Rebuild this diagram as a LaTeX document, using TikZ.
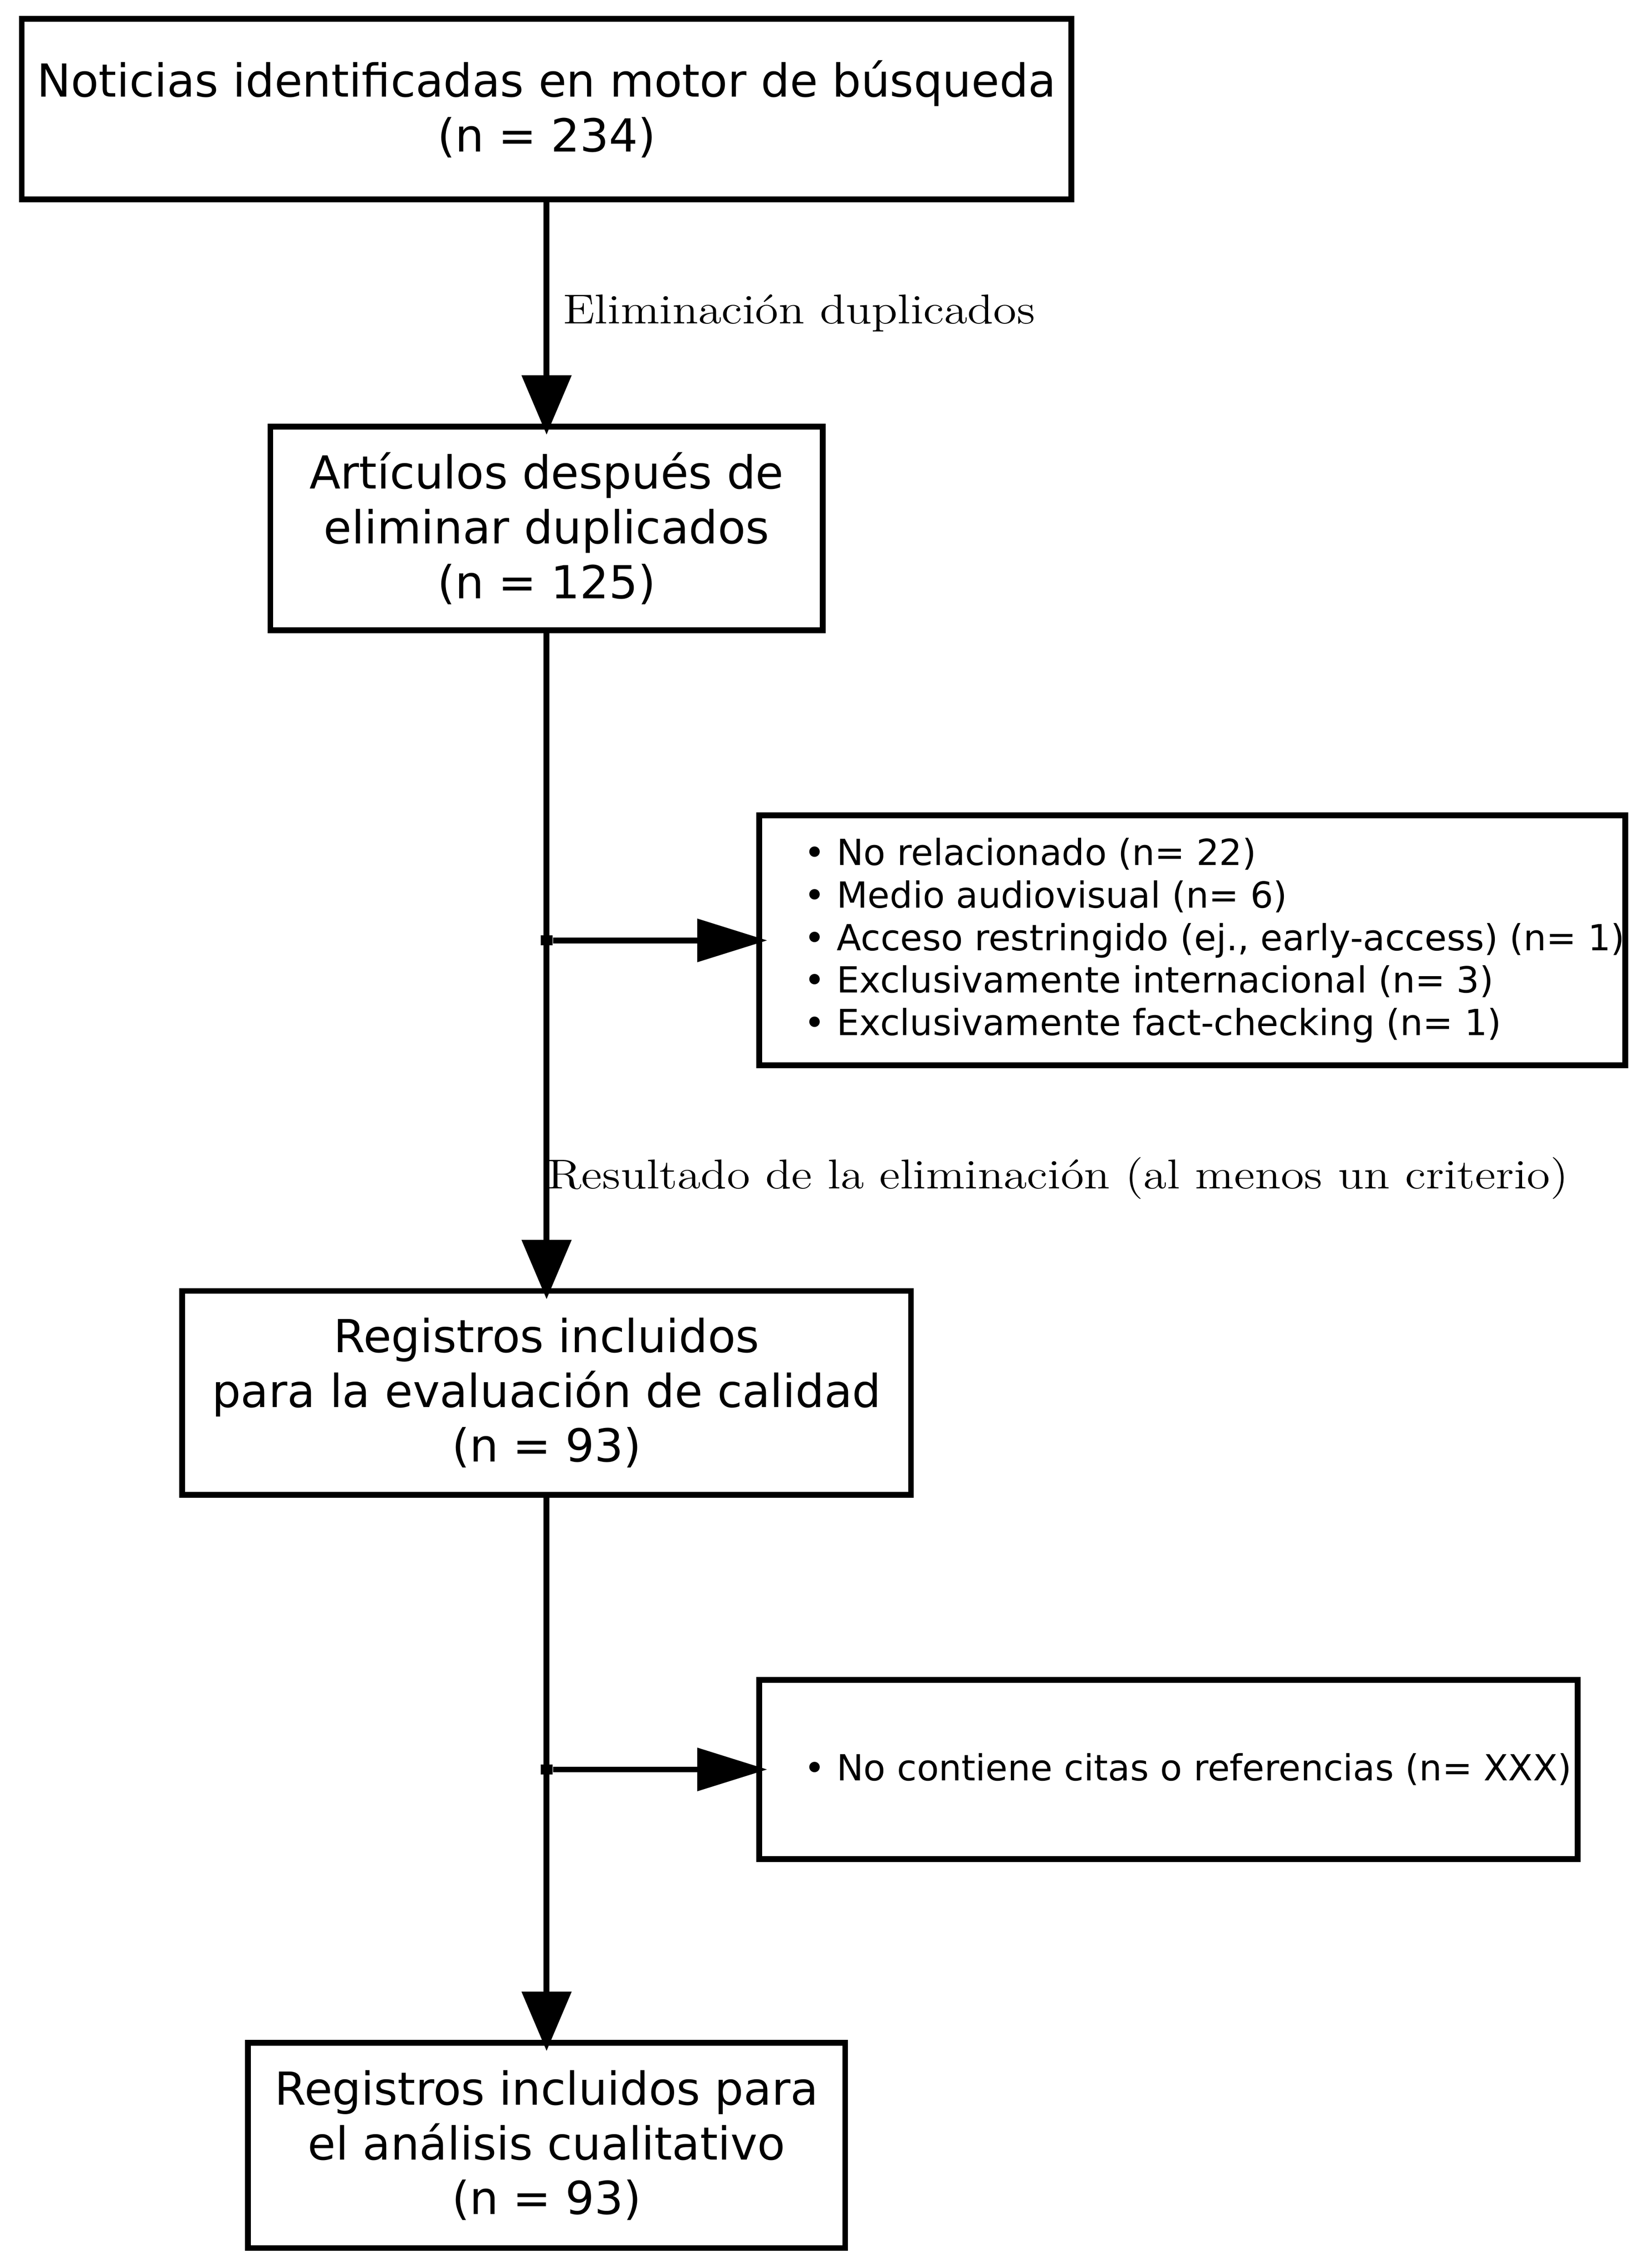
\documentclass[tikz,border=0pt]{standalone}
\usepackage{fontspec}
\usepackage{tikz}
\usetikzlibrary{arrows.meta,calc}
\newfontfamily\boxfont{DejaVu Sans}
\tikzset{
    block/.style={draw, rectangle, line width=2pt, outer sep=0pt, inner sep=0pt, align=center,
        font=\boxfont\fontsize{15.7}{18.9}\selectfont},
    itemlist/.style={anchor=west, align=left, inner sep=0pt, font=\boxfont\fontsize{12.4}{14.7}\selectfont},
    edgelabel/.style={anchor=west, inner sep=0pt, font=\fontsize{14.4}{17}\selectfont, xscale=1.14, transform shape},
    junction/.style={rectangle, fill, inner sep=0pt, minimum width=0.14cm, minimum height=0.12cm},
    vtip/.tip={Triangle[length=0.72cm,width=0.59cm]},
    htip/.tip={Triangle[length=0.85cm,width=0.51cm]}}

\begin{document}
\begin{tikzpicture}
\useasboundingbox (0,0) rectangle (20,-27.499);
\coordinate (c1) at (6.626,-1.323);
\coordinate (c2) at (6.626,-6.406);
\coordinate (c3) at (6.626,-16.888);
\coordinate (c4) at (6.626,-26.012);
\coordinate (e1) at (14.452,-11.402);
\coordinate (e2) at (14.163,-21.454);
\node[block, minimum width=12.725cm, minimum height=2.191cm] (found) at (c1)
    {Noticias identificadas en motor de búsqueda\\(n = 234)};
\node[block, minimum width=6.696cm, minimum height=2.471cm] (dedup) at (c2)
    {Artículos después de\\eliminar duplicados\\(n = 125)};
\node[block, minimum width=8.834cm, minimum height=2.471cm] (quality) at (c3)
    {Registros incluidos\\para la evaluación de calidad\\(n = 93)};
\node[block, minimum width=7.239cm, minimum height=2.489cm] (final) at (c4)
    {Registros incluidos para\\el análisis cualitativo\\(n = 93)};
\node[block, minimum width=10.499cm, minimum height=3.032cm] (excl1) at (e1) {};
\node[itemlist] (excl1txt) at ([xshift=0.54cm]excl1.west)
    {• No relacionado (n= 22)\\
     • Medio audiovisual (n= 6)\\
     • Acceso restringido (ej., early-access) (n= 1)\\
     • Exclusivamente internacional (n= 3)\\
     • Exclusivamente fact-checking (n= 1)};
\node[block, minimum width=9.921cm, minimum height=2.173cm] (excl2) at (e2) {};
\node[itemlist] (excl2txt) at ([xshift=0.54cm]excl2.west)
    {• No contiene citas o referencias (n= XXX)};
\node[junction] (split1) at (dedup.south |- excl1.west) {};
\node[junction] (split2) at (quality.south |- excl2.west) {};
% main flow
\draw[-vtip, line width=2pt, shorten >=-0.1cm] (found) -- node[edgelabel, xshift=0.14cm] {Eliminación duplicados} (dedup);
\draw[-vtip, line width=2pt, shorten >=-0.1cm] (dedup) -- (quality);
\draw[-vtip, line width=2pt, shorten >=-0.1cm] (quality) -- (final);
\path (split1.center) -- node[edgelabel, pos=0.679] {Resultado de la eliminación (al menos un criterio)} (quality.north);
% exclusions
\draw[-htip, line width=2pt, shorten >=-0.1cm] (split1) -- (excl1);
\draw[-htip, line width=2pt, shorten >=-0.1cm] (split2) -- (excl2);
\end{tikzpicture}
\end{document}
